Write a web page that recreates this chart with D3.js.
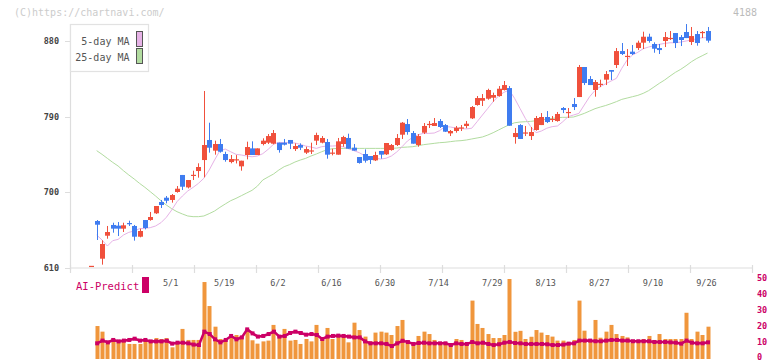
<!DOCTYPE html>
<html>
<head>
<meta charset="utf-8">
<script src="https://cdn.jsdelivr.net/npm/d3@7/dist/d3.min.js"></script>
<style>
html,body{margin:0;padding:0;background:#fff;}
svg{display:block;}
text{font-family:"DejaVu Sans Mono",monospace;}
</style>
</head>
<body>
<svg id="chart" width="772" height="361"></svg>
<script>
const dates = ["4/9","4/10","4/11","4/14","4/15","4/16","4/17","4/18","4/21","4/22","4/23","4/24","4/25","4/28","4/30",
"5/1","5/2","5/7","5/8","5/9","5/12","5/13","5/14","5/15","5/16","5/19","5/20","5/21","5/22","5/23","5/26","5/27","5/28","5/29","5/30",
"6/2","6/3","6/4","6/5","6/6","6/9","6/10","6/11","6/12","6/13","6/16","6/17","6/18","6/19","6/20","6/23","6/24","6/25","6/26","6/27","6/30",
"7/1","7/2","7/3","7/4","7/7","7/8","7/9","7/10","7/11","7/14","7/15","7/16","7/17","7/18","7/22","7/23","7/24","7/25","7/28","7/29","7/30","7/31",
"8/1","8/4","8/5","8/6","8/7","8/8","8/12","8/13","8/14","8/15","8/18","8/19","8/20","8/21","8/22","8/25","8/26","8/27","8/28","8/29",
"9/1","9/2","9/3","9/4","9/5","9/8","9/9","9/10","9/11","9/12","9/16","9/17","9/18","9/19","9/22","9/24","9/25","9/26"];

const open = [612,665.4,620.5,647.9,660.7,659.9,656.3,663,659.5,646.7,666.6,666.6,674.6,688.1,693.2,690.5,700,720.3,705.5,719.5,
725,738.1,762,749.3,757.2,745.3,735.7,738.5,730.6,744.1,752,744.1,757.2,758.8,757.6,758.8,758.8,762,751.2,756,
746.9,749,761.2,758.8,759.6,746.5,744.5,757.2,764.4,752.8,741.7,745.3,742.9,737.7,748.9,744.9,750,756,768.3,781,
770.3,756,770.7,780.8,778.7,784.6,779.8,769.9,772.7,776.5,778.7,787.8,803.7,808.8,811.2,812.4,814.4,821.6,823.9,765.5,
779.8,770.5,766.7,773.9,779.8,789.4,786.8,784.6,800.1,795,804.9,813.2,849,834.7,821.6,828.5,833.9,845.4,851.4,868,
861.8,867.3,871.6,878,885.1,876.4,871.6,880,883.2,889.5,884.7,890.7,878.8,888.3,890.3,891.9];
const high = [612,666.6,642.4,659.5,663.4,664.2,663.4,665.8,660.7,656.3,666.6,676.2,683.3,690.5,695.2,697.6,707.1,720.3,714.3,725.4,
734.2,820.4,782.6,761.2,763.2,748,744.1,744,737.3,760,760.4,752,764,769.1,773.9,758.8,763.2,762,758,758,
754,758.8,770.7,766.7,763.2,751.6,764.4,767,769.5,757.2,741.7,750.8,742.9,748,748.9,758.4,757.2,769.1,783.4,787,
772.7,769.1,782.2,784.6,788.2,787,781,773.9,778.7,779.8,784.6,802.5,814.4,816.8,823.1,818.4,826.3,832.3,826.3,776.3,
780.9,778.7,777.5,790.6,794.1,796.5,790.6,795.4,801.3,800.1,812,851.4,849,838.2,833.5,833.9,844.2,845.4,871.6,877.6,
870.4,875.2,880.4,891.1,888.7,878.4,876.4,890.7,891.9,889.5,887.1,900.2,896.7,891.9,891.9,896.7];
const low = [612,642.8,613.4,644.3,651.5,647.5,652.3,659.5,642,646,655.5,665.8,673.8,680.9,686.5,687.3,699.2,702.4,704.3,714.3,
717.1,717.5,746.9,744.5,746.9,736.1,734.2,734,725.4,738.9,744.1,744.1,755.6,757.2,756.8,746.9,755.5,751.2,748.9,750,
745.3,745.3,756,758,739.7,743.7,744.5,754,751.6,749.3,733.8,735,733.4,736.9,739.7,744.1,749.3,754.8,763.2,768.3,
757.6,754,769.1,776.3,778.7,776.3,771.5,766.7,770.7,772.7,776,787,802.9,802.5,810,807.6,813.6,821,779,757.6,
763.2,766.7,762,773.1,779.8,782.2,783.4,783.8,794.1,788.2,797.7,813.2,827.5,827.5,813.6,825,827.5,833.5,847.8,863.3,
850.2,863.3,869.2,870.4,878,866,864.5,872.8,881.2,871.6,874,883.5,875.2,874.4,883.5,878];
const close = [612,661,638,652.3,656.3,656.3,660.3,662.2,646.7,653.5,657.1,670.2,683.3,684.5,689.6,696.4,703.9,706.3,714.3,720.5,
729.8,756,752.8,757.2,748,738.1,739.3,739,737.3,753.6,744.1,752,761.2,766.7,770.3,750,756.4,757.6,754.8,752.8,
751.2,749.6,767.9,764.4,744.5,747,760.4,765.5,751.6,749.3,734.6,737.3,738.1,744.1,744.5,758.4,756,764.4,782.6,771.5,
757.6,766.7,778.7,781.2,782.2,777.5,771.9,772.7,776.7,777,781.4,801.3,812,812,821.6,815.6,823.1,827.5,779,770.3,
763.2,771,771.5,788.2,789.4,783.4,787.2,793,797.7,795.4,801.3,849,829.9,827.5,831.1,829,840.6,843.4,868,864.5,
862.3,864.5,878,885.1,880,870.8,869.2,884.7,883.7,877.6,881.2,883.5,885.9,877.6,890.8,880.4];

const ma5 = [null,648.7,642.8,635.6,642,643.5,648.7,651.9,653.5,656.3,656.7,657.5,659.5,663.4,669.8,678.5,688.5,695.2,701.2,705.5,
710.3,716.3,726.2,738.1,749.3,751.2,748,744.9,744.1,742.9,742,742.9,745.7,750.8,756.8,759.2,758.8,758.8,758.4,756.8,
754.8,753.6,752,754,754.8,754.8,755.2,754,751.6,749.3,746.9,743.3,741.3,740.2,739.3,740.2,742.9,747.7,754,760.8,
765.2,768.3,769.9,769.9,770.3,773.1,778,777.5,776.3,775.5,775.2,776,783.8,791.8,799.7,807.7,814.4,818.8,821.6,811.6,
799.7,787.8,777.9,770.7,772.7,776,777.9,778.7,783.8,789.8,791.8,793.7,803.7,813.6,821,825.7,829,832.3,835.5,847.4,
857.3,863.3,866.5,870.8,872.8,874.4,876,877.1,877.9,877.9,878.7,880,881.2,882.7,883.9,883.9];
const ma25 = [null,749.3,744.9,740.1,735.3,731,725.4,720.3,715.5,710.3,705.6,700.4,695.2,689.6,684.5,680.1,676.5,673.8,671.4,670.6,
670.6,671.4,674.2,677.3,681.7,685.7,689.6,692.4,695.6,698.8,702,707,714.3,717.9,721.4,726.2,730.2,732.6,735.7,738.1,
740.1,742.9,745.3,748,750.4,751.6,752,752,752,752,752,752,752,752,752,752,752,752.4,753.2,753.6,
754,755.2,756.4,757.2,758,758.8,759.2,760,760.8,761.2,762,763.2,764.4,765.6,767.9,770.7,773.9,777.1,780.2,782.5,
783.4,783.8,784.2,785,785.8,787,787.8,788.6,789,789,789.4,791.4,793.7,796.5,799.3,801.3,803.1,805.3,807.7,810.4,
812,813.6,815.2,817.6,820.8,825.1,829.5,833.5,838.2,842.6,846.2,850.5,855.3,859.2,862.4,865.6];

const volume = [null,20.6,17.1,9.8,11.9,10.2,11,9.4,9.4,9.4,11.9,11.9,13.1,12.5,13.1,7.3,10.6,18.8,11.9,11.9,
11.9,48.1,33.1,20.2,12.5,11.9,13.5,15,14.4,18.5,11.7,9.6,11,11.5,21.3,14,18.8,11.5,11.9,9.4,
12.5,11,21.3,11.9,19.4,12.5,14,14,10.4,22.7,18.1,14,11,16.5,17.1,16.5,15,20.6,24.4,10.2,
8.8,14.4,17.1,15.6,11.9,9.4,10.2,8.8,12.5,11.9,8.8,36.5,21.9,19.4,15.6,13.1,13.1,15,50,17,
17.6,12.5,13.9,18.1,16.5,15,14,11.5,11.5,10.2,11.9,36.5,17.7,11.5,24.4,13.3,17.1,21.3,15.6,14.4,
13.5,10.2,11.9,12.5,14.4,11.9,15.6,12.5,12.5,12.5,12.5,28.9,12.5,17.1,15,20.2];
const aiPredict = [null,9.8,11.5,10.4,11.9,11,11.5,11.9,12.7,11.5,11.9,11,11,11,11.4,9.6,10.2,10.2,9.8,9,
8.75,17.1,15.6,12.3,10.4,11.9,14.4,12.3,13.5,18.5,16,14,14.4,15.6,17.1,14,14.4,16.25,17.1,16.25,
15.2,15.6,15,12.5,14,14.4,14.6,14.4,14,13.5,13.5,11,9.8,9.8,9.8,9.4,8.1,9.8,11.4,10.6,
9.4,10,10.2,9.8,9.8,9.8,9.8,8.75,9.8,9.4,9.4,10.6,9.8,10.2,9.4,8.75,9.2,10.2,10.6,10,
9.8,9.4,9.4,9.4,9.4,9.2,8.75,8.75,9,9.6,9.8,11.5,11.5,11.5,11.1,11.1,11.5,11.9,11.9,11.5,
11.5,11.1,11.1,11.1,11.1,10.6,10.6,10.6,10.4,10.2,9.6,11.5,10.2,9.8,9.8,10.4];

const dateTicks = ["5/1","5/19","6/2","6/16","6/30","7/14","7/29","8/13","8/27","9/10","9/26"];
const priceTicks = [610,700,790,880];
const volumeTicks = [0,10,20,30,40,50];
const legendItems = ["5-day MA","25-day MA"];

const C = {up:"#f0503c", down:"#3f7cf0", vol:"#f0963c", ai:"#cc0066", ma5:"#e6b2e6", ma25:"#b2dca0", axis:"#dddddd"};

const svg = d3.select("#chart");
const x = d3.scalePoint().domain(dates).range([91.3, 707.5]);
const y = d3.scaleLinear().domain([610, 880]).range([267.5, 41]);
const yv = d3.scaleLinear().domain([0, 50]).range([359, 279]);
const grid = d3.scaleLinear().domain([0, 11]).range([70, 752]);

// watermark and code
svg.append("text").attr("x",14).attr("y",16).attr("font-size",10).attr("fill","#cccccc").text("(C)https://chartnavi.com/");
svg.append("text").attr("x",757).attr("y",16).attr("text-anchor","end").attr("font-size",10).attr("fill","#bbbbbb").text("4188");

// axes lines
svg.append("line").attr("x1",70.5).attr("x2",70.5).attr("y1",24).attr("y2",270).attr("stroke",C.axis).attr("stroke-width",1.2);
svg.append("line").attr("x1",70).attr("x2",752).attr("y1",268).attr("y2",268).attr("stroke",C.axis).attr("stroke-width",1.2);
svg.selectAll(".gtick").data(d3.range(0,12)).enter().append("line")
  .attr("x1",d=>Math.round(grid(d))+0.5).attr("x2",d=>Math.round(grid(d))+0.5).attr("y1",265).attr("y2",273)
  .attr("stroke",C.axis).attr("stroke-width",1.2);

// y-axis ticks
svg.selectAll(".ptick").data(priceTicks).enter().append("line")
  .attr("x1",65).attr("x2",71).attr("y1",d=>Math.round(y(d))+0.5).attr("y2",d=>Math.round(y(d))+0.5).attr("stroke",C.axis);
svg.selectAll(".plab").data(priceTicks).enter().append("text")
  .attr("x",59).attr("y",d=>y(d)+3).attr("text-anchor","end").attr("font-size",8.5).attr("font-weight","bold").attr("fill","#444")
  .text(d=>d);

// date labels
svg.selectAll(".dlab").data(dateTicks).enter().append("text")
  .attr("x",d=>x(d)-1).attr("y",285.5).attr("text-anchor","middle").attr("font-size",8.5).attr("fill","#555").text(d=>d);

// MA lines
const lineGen = d3.line().defined(d=>d.v!=null).x(d=>x(d.d)).y(d=>y(d.v));
svg.append("path").datum(dates.map((d,i)=>({d,v:ma25[i]}))).attr("d",lineGen).attr("fill","none").attr("stroke",C.ma25).attr("stroke-width",1);
svg.append("path").datum(dates.map((d,i)=>({d,v:ma5[i]}))).attr("d",lineGen).attr("fill","none").attr("stroke",C.ma5).attr("stroke-width",1);

// candles
const candles = dates.map((d,i)=>({d,o:open[i],h:high[i],l:low[i],c:close[i]}));
const cg = svg.append("g");
candles.forEach(k=>{
  const col = k.c >= k.o ? C.up : C.down;
  const cx = Math.round(x(k.d));
  if (k.h > k.l) {
    cg.append("line").attr("x1",cx+0.5).attr("x2",cx+0.5).attr("y1",y(k.h)).attr("y2",y(k.l)).attr("stroke",col).attr("stroke-width",1);
  }
  const top = y(Math.max(k.o,k.c)), bot = y(Math.min(k.o,k.c));
  cg.append("rect").attr("x",cx-2).attr("width",5).attr("y",top).attr("height",Math.max(1.2,bot-top)).attr("fill",col);
});

// legend
const lg = svg.append("g");
lg.append("rect").attr("x",70.5).attr("y",24.5).attr("width",78).attr("height",47).attr("fill","#fff").attr("stroke","#e2e2e2").attr("stroke-width",1.2);
legendItems.forEach((t,i)=>{
  lg.append("text").attr("x",129.5).attr("y",44.5+i*16.5).attr("text-anchor","end").attr("font-size",10).attr("fill","#555").text(t);
  lg.append("rect").attr("x",136.5).attr("y",31.5+i*17).attr("width",6).attr("height",15)
    .attr("fill",i===0?C.ma5:C.ma25).attr("stroke","#555").attr("stroke-width",1);
});

// volume bars
svg.selectAll(".vbar").data(dates.map((d,i)=>({d,v:volume[i]})).filter(e=>e.v!=null)).enter().append("rect")
  .attr("x",e=>Math.round(x(e.d))-1.5).attr("width",4).attr("y",e=>yv(e.v)).attr("height",e=>yv(0)-yv(e.v)).attr("fill",C.vol);

// AI predict line
const aiData = dates.map((d,i)=>({d,v:aiPredict[i]})).filter(e=>e.v!=null);
svg.append("path").datum(aiData).attr("d",d3.line().x(e=>x(e.d)+0.5).y(e=>yv(e.v))).attr("fill","none").attr("stroke",C.ai).attr("stroke-width",2.6);
svg.selectAll(".aim").data(aiData).enter().append("rect")
  .attr("x",e=>x(e.d)-1.5).attr("y",e=>yv(e.v)-2).attr("width",4).attr("height",4).attr("fill",C.ai);

// right volume axis labels
svg.selectAll(".vlab").data(volumeTicks).enter().append("text")
  .attr("x",757).attr("y",d=>Math.min(yv(d)+1.5,359.5)).attr("font-size",8.5).attr("font-weight","bold").attr("fill",C.ai).text(d=>d);

// AI-Predict label
svg.append("text").attr("x",76).attr("y",290).attr("font-size",10.5).attr("fill",C.ai).text("AI-Predict");
svg.append("rect").attr("x",142).attr("y",277).attr("width",7).attr("height",16).attr("fill",C.ai);
</script>
</body>
</html>
